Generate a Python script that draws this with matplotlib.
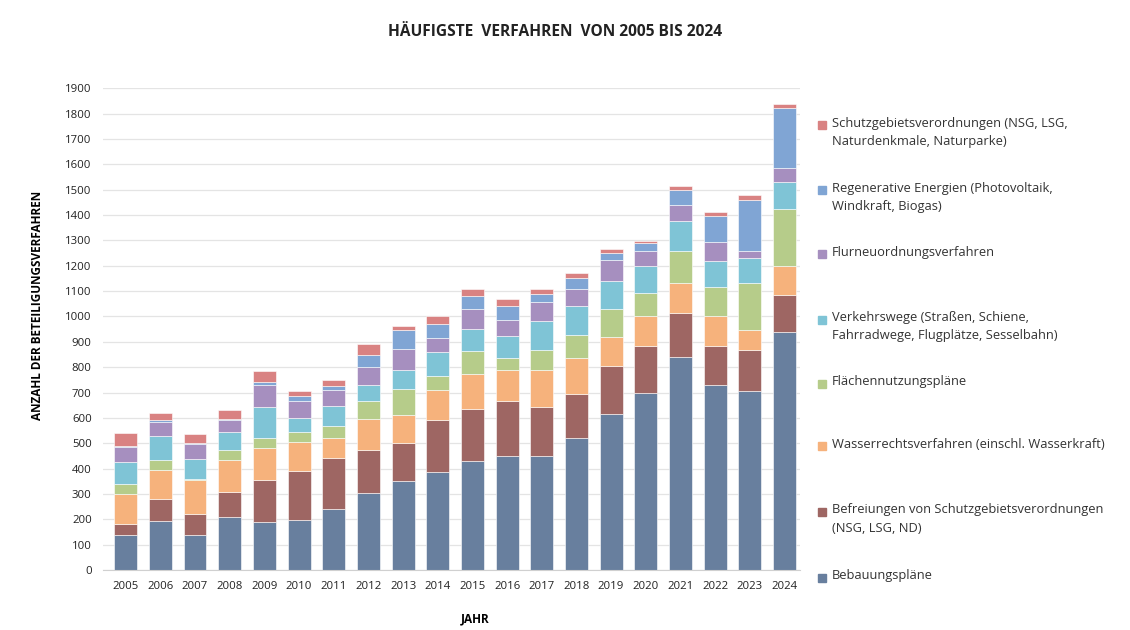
import numpy as np
import matplotlib
matplotlib.use("Agg")
import matplotlib.pyplot as plt
from matplotlib.patches import Rectangle

plt.rcParams['font.family'] = ['Open Sans', 'DejaVu Sans']

years = [str(y) for y in range(2005, 2025)]

bebauung = [140, 195, 140, 210, 190, 197, 240, 305, 350, 385, 430, 450, 450, 522, 615, 700, 840, 728, 707, 940]
befreiung = [40, 85, 80, 100, 165, 193, 203, 170, 150, 205, 205, 215, 195, 173, 190, 185, 175, 157, 161, 143]
wasser = [120, 113, 135, 125, 125, 115, 79, 120, 110, 120, 140, 125, 143, 140, 115, 115, 118, 115, 80, 115]
flaechen = [40, 42, 3, 40, 40, 38, 46, 70, 105, 55, 88, 48, 80, 91, 110, 92, 124, 116, 185, 226]
verkehr = [85, 92, 82, 68, 125, 57, 80, 65, 75, 95, 87, 84, 114, 114, 108, 108, 118, 102, 99, 107]
flur = [60, 58, 57, 50, 85, 67, 63, 70, 80, 55, 78, 65, 75, 68, 84, 60, 66, 76, 28, 54]
regen = [3, 5, 3, 3, 10, 21, 16, 50, 75, 55, 52, 55, 30, 42, 28, 30, 56, 102, 201, 237]
schutz = [52, 30, 35, 34, 45, 20, 23, 40, 18, 30, 28, 28, 21, 20, 18, 8, 16, 16, 19, 16]

series = [
    ("Bebauungspläne", bebauung, "#687f9e"),
    ("Befreiungen von Schutzgebietsverordnungen\n(NSG, LSG, ND)", befreiung, "#9e6663"),
    ("Wasserrechtsverfahren (einschl. Wasserkraft)", wasser, "#f6b27c"),
    ("Flächennutzungspläne", flaechen, "#b6cc8a"),
    ("Verkehrswege (Straßen, Schiene,\nFahrradwege, Flugplätze, Sesselbahn)", verkehr, "#7fc4d6"),
    ("Flurneuordnungsverfahren", flur, "#a68fbf"),
    ("Regenerative Energien (Photovoltaik,\nWindkraft, Biogas)", regen, "#80a5d4"),
    ("Schutzgebietsverordnungen (NSG, LSG,\nNaturdenkmale, Naturparke)", schutz, "#d98282"),
]

fig = plt.figure(figsize=(11.3, 6.3), dpi=100)
ax = fig.add_axes([0.091, 0.095, 0.617, 0.765])

x = np.arange(len(years))
bottom = np.zeros(len(years))
for name, vals, col in series:
    ax.bar(x, vals, 0.66, bottom=bottom, color=col, edgecolor="white", linewidth=0.4)
    bottom += np.array(vals)

ax.set_ylim(0, 1900)
ax.set_xlim(-0.66, 19.45)
ax.set_yticks(range(0, 2000, 100))
ax.set_xticks(x)
ax.set_xticklabels(years)
ax.tick_params(axis="both", length=0, labelsize=8.2, colors="#222222")
ax.tick_params(axis="y", pad=8)
ax.tick_params(axis="x", pad=8)
ax.grid(axis="y", color="#e4e4e4", linewidth=0.9)
ax.set_axisbelow(True)
for s in ["top", "right", "left"]:
    ax.spines[s].set_visible(False)
ax.spines["bottom"].set_color("#d0d0d0")

ax.set_xlabel("JAHR", fontsize=8.5, fontweight="bold")
ax.xaxis.set_label_coords(0.534, -0.087)
ax.set_ylabel("ANZAHL DER BETEILIGUNGSVERFAHREN", fontsize=8.5, fontweight="bold")
ax.yaxis.set_label_coords(-0.085, 0.55)
fig.text(0.491, 0.949, "HÄUFIGSTE  VERFAHREN  VON 2005 BIS 2024", ha="center", va="center",
         fontsize=11.2, fontweight="bold", color="#222222")

# legend drawn by hand, top entry first
leg_top = [125, 190, 254, 320, 384, 446, 512, 578]
for (name, vals, col), ypix in zip(series[::-1], leg_top):
    yf = 1 - ypix / 630
    fig.patches.append(Rectangle((818 / 1130, yf - 4 / 630), 8 / 1130, 8 / 630,
                                 transform=fig.transFigure, color=col))
    fig.text(832 / 1130, yf + 8.5 / 630, name, ha="left", va="top", fontsize=9.3,
             color="#333333", linespacing=1.5)

fig.savefig("out.png", dpi=100)
